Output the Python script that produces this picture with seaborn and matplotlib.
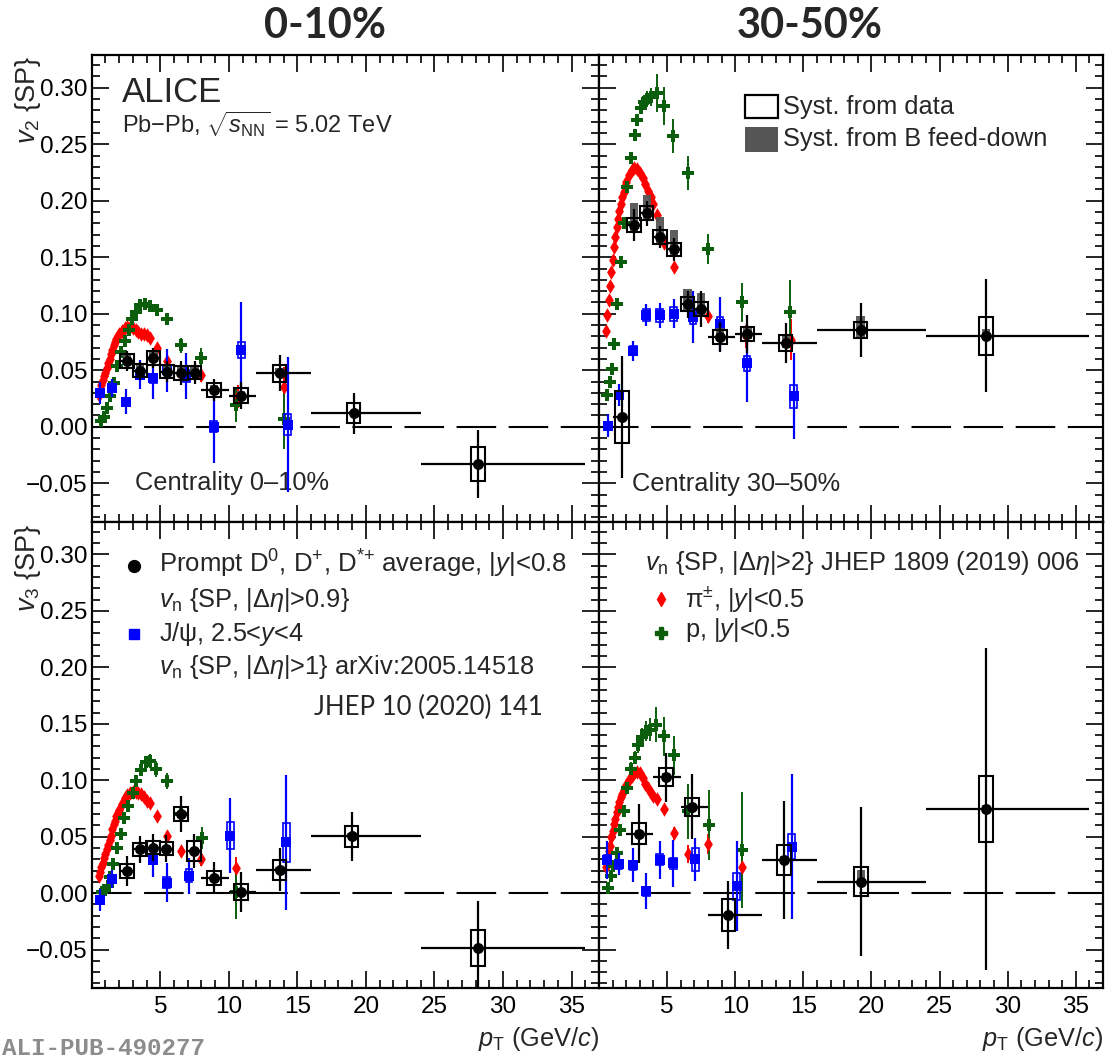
import numpy as np
import pandas as pd
import matplotlib
matplotlib.use("Agg")
import matplotlib.pyplot as plt
from matplotlib.patches import Rectangle
from matplotlib.ticker import MultipleLocator, FixedLocator, FuncFormatter
import seaborn as sns

sns.set_style("ticks")
plt.rcParams['font.family'] = ['Liberation Sans', 'DejaVu Sans']
plt.rcParams['mathtext.fontset'] = 'custom'
plt.rcParams['mathtext.rm'] = 'Liberation Sans'
plt.rcParams['mathtext.it'] = 'Liberation Sans:italic'
plt.rcParams['mathtext.bf'] = 'Liberation Sans:bold'
plt.rcParams['mathtext.sf'] = 'Liberation Sans'

# ---------------- data: prompt D mesons ----------------
d_v2_010_pt = [2.6, 3.5, 4.5, 5.5, 6.5, 7.5, 8.9, 10.9, 13.7, 19.1, 28.2]
d_v2_010_lo = [2, 3, 4, 5, 6, 7, 8, 10, 12, 16, 24]
d_v2_010_hi = [3, 4, 5, 6, 7, 8, 10, 12, 16, 24, 36]
d_v2_010_val = [0.058, 0.0497, 0.061, 0.0488, 0.0476, 0.048, 0.0326, 0.0276, 0.0473, 0.012, -0.033]
d_v2_010_stat = [0.009, 0.008, 0.009, 0.009, 0.011, 0.010, 0.010, 0.012, 0.016, 0.018, 0.030]
d_v2_010_syst = [0.006, 0.006, 0.006, 0.006, 0.006, 0.006, 0.006, 0.007, 0.0075, 0.009, 0.015]
d_v2_010_fdup = [0.006, 0.005, 0.006, 0.005, 0.005, 0.005, 0.004, 0.004, 0.005, 0.002, 0.002]
d_v2_010_fddn = [0.002, 0.002, 0.002, 0.002, 0.002, 0.002, 0.002, 0.002, 0.002, 0.002, 0.002]

d_v2_3050_pt = [1.7, 2.55, 3.5, 4.5, 5.5, 6.5, 7.5, 8.9, 10.9, 13.7, 19.2, 28.4]
d_v2_3050_lo = [1, 2, 3, 4, 5, 6, 7, 8, 10, 12, 16, 24]
d_v2_3050_hi = [2, 3, 4, 5, 6, 7, 8, 10, 12, 16, 24, 36]
d_v2_3050_val = [0.0087, 0.1786, 0.189, 0.168, 0.157, 0.1085, 0.104, 0.0795, 0.082, 0.074, 0.0858, 0.0805]
d_v2_3050_stat = [0.054, 0.014, 0.011, 0.010, 0.010, 0.012, 0.016, 0.013, 0.017, 0.018, 0.024, 0.050]
d_v2_3050_syst = [0.023, 0.006, 0.006, 0.006, 0.006, 0.006, 0.006, 0.006, 0.006, 0.007, 0.007, 0.017]
d_v2_3050_fdup = [0.003, 0.019, 0.016, 0.018, 0.017, 0.013, 0.014, 0.008, 0.007, 0.006, 0.012, 0.006]
d_v2_3050_fddn = [0.002, 0.005, 0.006, 0.006, 0.006, 0.005, 0.006, 0.004, 0.004, 0.004, 0.006, 0.004]

d_v3_010_pt = [2.6, 3.5, 4.45, 5.45, 6.5, 7.45, 8.9, 10.9, 13.7, 18.95, 28.2]
d_v3_010_lo = [2, 3, 4, 5, 6, 7, 8, 10, 12, 16, 24]
d_v3_010_hi = [3, 4, 5, 6, 7, 8, 10, 12, 16, 24, 36]
d_v3_010_val = [0.0196, 0.0388, 0.0404, 0.0394, 0.070, 0.0373, 0.0134, 0.001, 0.0208, 0.0503, -0.0488]
d_v3_010_stat = [0.013, 0.012, 0.012, 0.012, 0.016, 0.015, 0.014, 0.018, 0.019, 0.022, 0.042]
d_v3_010_syst = [0.006, 0.006, 0.006, 0.006, 0.006, 0.009, 0.006, 0.007, 0.009, 0.009, 0.016]
d_v3_010_fdup = [0.002, 0.002, 0.002, 0.002, 0.003, 0.002, 0.002, 0.002, 0.002, 0.003, 0.002]
d_v3_010_fddn = [0.001, 0.001, 0.001, 0.001, 0.001, 0.001, 0.001, 0.001, 0.001, 0.001, 0.001]

d_v3_3050_pt = [2.95, 4.9, 6.85, 9.5, 13.6, 19.25, 28.4]
d_v3_3050_lo = [2, 4, 6, 8, 12, 16, 24]
d_v3_3050_hi = [4, 6, 8, 12, 16, 24, 36]
d_v3_3050_val = [0.0528, 0.1025, 0.0767, -0.0196, 0.0295, 0.0102, 0.0745]
d_v3_3050_stat = [0.026, 0.022, 0.029, 0.030, 0.052, 0.066, 0.143]
d_v3_3050_syst = [0.009, 0.008, 0.008, 0.014, 0.013, 0.013, 0.029]
d_v3_3050_fdup = [0.003, 0.004, 0.003, 0.002, 0.003, 0.010, 0.004]
d_v3_3050_fddn = [0.001, 0.002, 0.001, 0.001, 0.001, 0.004, 0.002]

# ---------------- data: J/psi ----------------
j_v2_010_pt = [0.64, 1.5, 2.5, 3.5, 4.5, 5.5, 6.9, 8.9, 10.9, 14.3]
j_v2_010_val = [0.030, 0.034, 0.022, 0.046, 0.043, 0.050, 0.045, 0.000, 0.068, 0.002]
j_v2_010_err = [0.010, 0.008, 0.011, 0.013, 0.018, 0.019, 0.020, 0.032, 0.042, 0.060]
j_v2_010_syst = [0.003, 0.003, 0.003, 0.004, 0.004, 0.004, 0.005, 0.005, 0.007, 0.009]

j_v2_3050_pt = [0.64, 1.5, 2.52, 3.48, 4.47, 5.47, 6.9, 8.88, 10.87, 14.3]
j_v2_3050_val = [0.001, 0.028, 0.0673, 0.0988, 0.0985, 0.100, 0.097, 0.091, 0.056, 0.027]
j_v2_3050_err = [0.010, 0.010, 0.009, 0.010, 0.011, 0.013, 0.023, 0.024, 0.034, 0.038]
j_v2_3050_syst = [0.003, 0.003, 0.004, 0.005, 0.006, 0.006, 0.006, 0.006, 0.007, 0.010]

j_v3_010_pt = [0.64, 1.5, 4.44, 5.48, 7.1, 10.1, 14.2]
j_v3_010_val = [-0.0062, 0.0124, 0.0295, 0.0093, 0.0155, 0.051, 0.045]
j_v3_010_err = [0.010, 0.008, 0.015, 0.017, 0.016, 0.033, 0.060]
j_v3_010_syst = [0.003, 0.003, 0.004, 0.005, 0.006, 0.012, 0.017]

j_v3_3050_pt = [0.6, 1.45, 2.5, 3.46, 4.45, 5.46, 7.07, 10.1, 14.15]
j_v3_3050_val = [0.0295, 0.0258, 0.0248, 0.0016, 0.0295, 0.0264, 0.030, 0.0062, 0.0413]
j_v3_3050_err = [0.017, 0.010, 0.015, 0.016, 0.017, 0.021, 0.019, 0.040, 0.064]
j_v3_3050_syst = [0.004, 0.004, 0.004, 0.004, 0.005, 0.005, 0.010, 0.012, 0.011]

# ---------------- data: charged pions ----------------
pi_v2_010_pt = [0.5, 0.6, 0.7, 0.8, 0.9, 1.0, 1.1, 1.2, 1.3, 1.4, 1.5, 1.6, 1.7, 1.8, 1.9, 2.0,
                2.2, 2.4, 2.6, 2.8, 3.0, 3.2, 3.4, 3.6, 3.8, 4.0, 4.25, 4.75, 5.5, 6.5, 8.0, 10.7, 14.0]
pi_v2_010_val = [0.028, 0.032, 0.037, 0.041, 0.045, 0.048, 0.052, 0.056, 0.060, 0.064, 0.068, 0.072,
                 0.075, 0.078, 0.080, 0.082, 0.085, 0.087, 0.0885, 0.0886, 0.087, 0.0855, 0.084,
                 0.0825, 0.082, 0.081, 0.079, 0.070, 0.058, 0.047, 0.046, 0.027, 0.035]
pi_v2_010_err = [0.001] * 26 + [0.002, 0.003, 0.004, 0.005, 0.006, 0.010, 0.018]

pi_v2_3050_pt = [0.5, 0.6, 0.7, 0.8, 0.9, 1.0, 1.1, 1.2, 1.3, 1.4, 1.5, 1.6, 1.7, 1.8, 1.9, 2.0,
                 2.2, 2.4, 2.6, 2.8, 3.0, 3.2, 3.4, 3.6, 3.8, 4.0, 4.25, 4.75, 5.5, 6.5, 8.0, 10.8, 14.1]
pi_v2_3050_val = [0.085, 0.099, 0.112, 0.125, 0.137, 0.148, 0.159, 0.168, 0.177, 0.184, 0.191, 0.197,
                  0.203, 0.208, 0.213, 0.217, 0.223, 0.227, 0.229, 0.228, 0.225, 0.220, 0.215,
                  0.209, 0.203, 0.197, 0.187, 0.163, 0.1415, 0.112, 0.098, 0.080, 0.077]
pi_v2_3050_err = [0.001] * 26 + [0.002, 0.003, 0.004, 0.005, 0.006, 0.010, 0.018]

pi_v3_010_pt = [0.5, 0.6, 0.7, 0.8, 0.9, 1.0, 1.1, 1.2, 1.3, 1.4, 1.5, 1.6, 1.7, 1.8, 1.9, 2.0,
                2.2, 2.4, 2.6, 2.8, 3.0, 3.2, 3.4, 3.6, 3.8, 4.0, 4.25, 4.75, 5.5, 6.5, 8.0, 10.5]
pi_v3_010_val = [0.0155, 0.019, 0.023, 0.027, 0.031, 0.035, 0.039, 0.043, 0.047, 0.051, 0.057, 0.061,
                 0.064, 0.068, 0.071, 0.074, 0.079, 0.084, 0.087, 0.089, 0.0895, 0.090, 0.089,
                 0.0875, 0.085, 0.082, 0.080, 0.068, 0.051, 0.037, 0.030, 0.022]
pi_v3_010_err = [0.001] * 26 + [0.002, 0.003, 0.004, 0.005, 0.006, 0.010]

pi_v3_3050_pt = [0.5, 0.6, 0.7, 0.8, 0.9, 1.0, 1.1, 1.2, 1.3, 1.4, 1.5, 1.6, 1.7, 1.8, 1.9, 2.0,
                 2.2, 2.4, 2.6, 2.8, 3.0, 3.2, 3.4, 3.6, 3.8, 4.0, 4.25, 4.75, 5.5, 6.5, 8.0, 10.5]
pi_v3_3050_val = [0.023, 0.030, 0.037, 0.042, 0.050, 0.055, 0.061, 0.066, 0.072, 0.076, 0.081, 0.085,
                  0.088, 0.091, 0.093, 0.096, 0.100, 0.104, 0.1065, 0.107, 0.106, 0.102, 0.097,
                  0.093, 0.089, 0.086, 0.083, 0.0745, 0.053, 0.035, 0.0435, 0.0233]
pi_v3_3050_err = [0.001] * 26 + [0.003, 0.004, 0.006, 0.008, 0.009, 0.012]

# ---------------- data: protons ----------------
p_v2_010_pt = [0.65, 0.9, 1.15, 1.35, 1.6, 1.85, 2.15, 2.4, 2.7, 2.95, 3.25, 3.55, 3.9, 4.25, 4.75, 5.5, 6.5, 8.0, 10.5, 14.0]
p_v2_010_val = [0.005, 0.009, 0.017, 0.027, 0.039, 0.054, 0.066, 0.076, 0.0855, 0.095, 0.102, 0.108,
                0.109, 0.107, 0.103, 0.095, 0.072, 0.061, 0.019, 0.007]
p_v2_010_err = [0.002, 0.002, 0.002, 0.002, 0.002, 0.002, 0.002, 0.002, 0.002, 0.002, 0.003, 0.003,
                0.003, 0.004, 0.004, 0.005, 0.007, 0.009, 0.015, 0.027]

p_v2_3050_pt = [0.61, 0.78, 0.95, 1.1, 1.34, 1.59, 1.83, 2.07, 2.37, 2.61, 2.8, 3.05, 3.29, 3.54,
                3.83, 4.24, 4.76, 5.46, 6.51, 7.98, 10.49, 14.02]
p_v2_3050_val = [0.028, 0.040, 0.051, 0.0734, 0.109, 0.1456, 0.1807, 0.2125, 0.238, 0.258, 0.2714,
                 0.2818, 0.2877, 0.2897, 0.292, 0.2956, 0.2838, 0.2573, 0.2243, 0.1574, 0.110, 0.102]
p_v2_3050_err = [0.003, 0.003, 0.003, 0.003, 0.003, 0.003, 0.003, 0.004, 0.004, 0.004, 0.005, 0.005,
                 0.006, 0.007, 0.008, 0.017, 0.017, 0.015, 0.015, 0.013, 0.017, 0.028]

p_v3_010_pt = [0.74, 0.94, 1.16, 1.36, 1.58, 1.86, 2.14, 2.34, 2.62, 2.98, 3.26, 3.6, 3.96, 4.24,
               4.66, 5.5, 6.48, 8.08, 10.5]
p_v3_010_val = [0.001, 0.003, 0.006, 0.0146, 0.0258, 0.040, 0.052, 0.067, 0.0776, 0.089, 0.0994,
                0.1087, 0.116, 0.117, 0.110, 0.0994, 0.070, 0.049, 0.001]
p_v3_010_err = [0.002, 0.002, 0.002, 0.002, 0.002, 0.002, 0.003, 0.003, 0.003, 0.003, 0.004, 0.004,
                0.005, 0.006, 0.007, 0.007, 0.009, 0.010, 0.024]

p_v3_3050_pt = [0.66, 0.85, 1.05, 1.3, 1.51, 1.83, 2.07, 2.32, 2.61, 2.85, 3.15, 3.46, 3.78, 4.2,
                4.76, 5.49, 6.51, 8.05, 10.49]
p_v3_3050_val = [0.005, 0.0155, 0.024, 0.036, 0.056, 0.073, 0.093, 0.110, 0.120, 0.131, 0.138,
                 0.1438, 0.1447, 0.149, 0.1388, 0.122, 0.0724, 0.0606, 0.0382]
p_v3_3050_err = [0.004, 0.004, 0.004, 0.004, 0.004, 0.005, 0.005, 0.006, 0.006, 0.007, 0.008,
                 0.009, 0.010, 0.0155, 0.017, 0.017, 0.024, 0.031, 0.051]

# ---------------- style ----------------
RED = '#ff0000'
BLUE = '#0000ff'
GREEN = '#0b5e0b'
FD_GRAY = '#555555'
XMAX = 37.0
YMIN, YMAX = -0.084, 0.329

fig = plt.figure(figsize=(11.07, 10.60), dpi=100)
L, M, R = 91.7 / 1107, 599 / 1107, 1103 / 1107
T, MID, B = 1 - 55 / 1060, 1 - 521.7 / 1060, 1 - 988 / 1060
ax_tl = fig.add_axes([L, MID, M - L, T - MID])
ax_tr = fig.add_axes([M, MID, R - M, T - MID])
ax_bl = fig.add_axes([L, B, M - L, MID - B])
ax_br = fig.add_axes([M, B, R - M, MID - B])


def fmt_y(v, p):
    if abs(v) < 1e-9:
        v = 0.0
    return f"{v:.2f}".replace('-', '\u2212')


def draw_panel(ax, d_pt, d_lo, d_hi, d_val, d_stat, d_syst, d_fdup, d_fddn,
               j_pt, j_val, j_err, j_syst, pi_pt, pi_val, pi_err, p_pt, p_val, p_err):
    ax.plot([0, XMAX], [0, 0], color='black', lw=1.5, dashes=(19, 6), zorder=1)

    # charged pions
    ax.errorbar(pi_pt, pi_val, yerr=pi_err, fmt='none', ecolor=RED, elinewidth=1.4, zorder=2)
    sns.scatterplot(x=pi_pt, y=pi_val, marker='d', color=RED, s=55, linewidth=0,
                    ax=ax, zorder=3, legend=False)
    # protons
    ax.errorbar(p_pt, p_val, yerr=p_err, fmt='none', ecolor=GREEN, elinewidth=1.4, zorder=2)
    sns.scatterplot(x=p_pt, y=p_val, marker='P', color=GREEN, s=80, linewidth=0,
                    ax=ax, zorder=3, legend=False)
    # J/psi
    for x, y, s in zip(j_pt, j_val, j_syst):
        ax.add_patch(Rectangle((x - 0.25, y - s), 0.5, 2 * s, fill=False,
                               edgecolor=BLUE, lw=1.2, zorder=4))
    ax.errorbar(j_pt, j_val, yerr=j_err, fmt='none', ecolor=BLUE, elinewidth=1.6, zorder=4)
    sns.scatterplot(x=j_pt, y=j_val, marker='s', color=BLUE, s=42, linewidth=0,
                    ax=ax, zorder=5, legend=False)
    # prompt D mesons
    for x, y, up, dn in zip(d_pt, d_val, d_fdup, d_fddn):
        ax.add_patch(Rectangle((x - 0.3, y - dn), 0.6, up + dn, facecolor=FD_GRAY,
                               edgecolor='none', alpha=0.95, zorder=6))
    for x, y, s in zip(d_pt, d_val, d_syst):
        ax.add_patch(Rectangle((x - 0.5, y - s), 1.0, 2 * s, fill=False,
                               edgecolor='black', lw=1.5, zorder=7))
    xl = np.array(d_pt) - np.array(d_lo)
    xh = np.array(d_hi) - np.array(d_pt)
    ax.errorbar(d_pt, d_val, yerr=d_stat, xerr=[xl, xh], fmt='none', ecolor='black',
                elinewidth=1.6, zorder=8)
    sns.scatterplot(x=d_pt, y=d_val, marker='o', color='black', s=62, linewidth=0,
                    ax=ax, zorder=9, legend=False)

    ax.set_xlim(0, XMAX)
    ax.set_ylim(YMIN, YMAX)
    ax.xaxis.set_major_locator(FixedLocator([5, 10, 15, 20, 25, 30, 35]))
    ax.xaxis.set_minor_locator(MultipleLocator(1))
    ax.yaxis.set_major_locator(MultipleLocator(0.05))
    ax.yaxis.set_minor_locator(MultipleLocator(0.01))
    ax.yaxis.set_major_formatter(FuncFormatter(fmt_y))
    ax.tick_params(which='both', direction='in', top=True, right=True, width=1.2,
                   colors='black', labelsize=17.5)
    ax.tick_params(which='major', length=12)
    ax.tick_params(which='minor', length=6)
    ax.tick_params(axis='x', which='major', pad=6)
    ax.tick_params(axis='y', which='major', pad=3)
    for sp in ax.spines.values():
        sp.set_linewidth(1.6)
        sp.set_color('black')
    ax.set_xlabel('')
    ax.set_ylabel('')


draw_panel(ax_tl, d_v2_010_pt, d_v2_010_lo, d_v2_010_hi, d_v2_010_val, d_v2_010_stat,
           d_v2_010_syst, d_v2_010_fdup, d_v2_010_fddn,
           j_v2_010_pt, j_v2_010_val, j_v2_010_err, j_v2_010_syst,
           pi_v2_010_pt, pi_v2_010_val, pi_v2_010_err, p_v2_010_pt, p_v2_010_val, p_v2_010_err)
draw_panel(ax_tr, d_v2_3050_pt, d_v2_3050_lo, d_v2_3050_hi, d_v2_3050_val, d_v2_3050_stat,
           d_v2_3050_syst, d_v2_3050_fdup, d_v2_3050_fddn,
           j_v2_3050_pt, j_v2_3050_val, j_v2_3050_err, j_v2_3050_syst,
           pi_v2_3050_pt, pi_v2_3050_val, pi_v2_3050_err, p_v2_3050_pt, p_v2_3050_val, p_v2_3050_err)
draw_panel(ax_bl, d_v3_010_pt, d_v3_010_lo, d_v3_010_hi, d_v3_010_val, d_v3_010_stat,
           d_v3_010_syst, d_v3_010_fdup, d_v3_010_fddn,
           j_v3_010_pt, j_v3_010_val, j_v3_010_err, j_v3_010_syst,
           pi_v3_010_pt, pi_v3_010_val, pi_v3_010_err, p_v3_010_pt, p_v3_010_val, p_v3_010_err)
draw_panel(ax_br, d_v3_3050_pt, d_v3_3050_lo, d_v3_3050_hi, d_v3_3050_val, d_v3_3050_stat,
           d_v3_3050_syst, d_v3_3050_fdup, d_v3_3050_fddn,
           j_v3_3050_pt, j_v3_3050_val, j_v3_3050_err, j_v3_3050_syst,
           pi_v3_3050_pt, pi_v3_3050_val, pi_v3_3050_err, p_v3_3050_pt, p_v3_3050_val, p_v3_3050_err)

for ax in (ax_tl, ax_tr):
    ax.tick_params(labelbottom=False)
for ax in (ax_tr, ax_br):
    ax.tick_params(labelleft=False)

FS = 18.3
# ---- top-left texts ----
ax_tl.text(0.06, 0.90, 'ALICE', transform=ax_tl.transAxes, fontsize=25, va='baseline')
ax_tl.text(0.06, 0.832, r'Pb$-$Pb, $\sqrt{s_{\rm NN}}$ = 5.02 TeV', transform=ax_tl.transAxes,
           fontsize=17, va='baseline')
ax_tl.text(0.0855, 0.068, 'Centrality 0\u201310%', transform=ax_tl.transAxes, fontsize=FS,
           va='baseline')

# ---- top-right texts / legend ----
ax_tr.add_patch(Rectangle((0.29, 0.8644), 0.0646, 0.0499, transform=ax_tr.transAxes,
                          fill=False, edgecolor='black', lw=1.6, zorder=10))
ax_tr.add_patch(Rectangle((0.29, 0.7928), 0.0646, 0.0522, transform=ax_tr.transAxes,
                          facecolor=FD_GRAY, edgecolor='none', zorder=10))
ax_tr.text(0.366, 0.874, 'Syst. from data', transform=ax_tr.transAxes, fontsize=FS, va='baseline')
ax_tr.text(0.366, 0.805, 'Syst. from B feed-down', transform=ax_tr.transAxes, fontsize=FS,
           va='baseline')
ax_tr.text(0.065, 0.066, 'Centrality 30\u201350%', transform=ax_tr.transAxes, fontsize=FS,
           va='baseline')

# ---- bottom-left legend ----
ax_bl.plot([0.083], [0.905], 'o', color='black', ms=8.5, transform=ax_bl.transAxes, clip_on=False)
ax_bl.text(0.132, 0.89, r'Prompt D$^{0}$, D$^{+}$, D$^{*{+}}$ average, |$y$|<0.8',
           transform=ax_bl.transAxes, fontsize=18.5, va='baseline')
ax_bl.text(0.132, 0.818, r'$v_{\rm n}$ {SP, |$\Delta\eta$|>0.9}', transform=ax_bl.transAxes,
           fontsize=FS, va='baseline')
ax_bl.plot([0.083], [0.76], 's', color=BLUE, ms=6.5, transform=ax_bl.transAxes, clip_on=False)
ax_bl.text(0.132, 0.745, r'J/ψ, 2.5<$y$<4', transform=ax_bl.transAxes, fontsize=FS,
           va='baseline')
ax_bl.text(0.132, 0.673, r'$v_{\rm n}$ {SP, |$\Delta\eta$|>1} arXiv:2005.14518',
           transform=ax_bl.transAxes, fontsize=FS, va='baseline')
ax_bl.text(0.438, 0.585, 'JHEP 10 (2020) 141', transform=ax_bl.transAxes, fontsize=18.5,
           va='baseline', family=['Lato', 'DejaVu Sans'])

# ---- bottom-right legend ----
ax_br.text(0.091, 0.896, r'$v_{\rm n}$ {SP, |$\Delta\eta$|>2} JHEP 1809 (2019) 006',
           transform=ax_br.transAxes, fontsize=FS, va='baseline')
ax_br.plot([0.124], [0.834], 'd', color=RED, ms=7, transform=ax_br.transAxes, clip_on=False)
ax_br.text(0.171, 0.818, r'π$^{\pm}$, |$y$|<0.5', transform=ax_br.transAxes, fontsize=FS,
           va='baseline')
ax_br.plot([0.124], [0.761], 'P', color=GREEN, ms=9, transform=ax_br.transAxes, clip_on=False)
ax_br.text(0.171, 0.753, r'p, |$y$|<0.5', transform=ax_br.transAxes, fontsize=FS,
           va='baseline')

# ---- axis titles ----
fig.text(0.025, 1 - 56 / 1060, r'$v_{2}$ {SP}', rotation=90, ha='center', va='top', fontsize=19.5)
fig.text(0.025, 1 - 524 / 1060, r'$v_{3}$ {SP}', rotation=90, ha='center', va='top', fontsize=19.5)
ax_bl.text(1.0, -0.125, r'$p_{\rm T}$ (GeV/$c$)', transform=ax_bl.transAxes, ha='right',
           va='baseline', fontsize=FS)
ax_br.text(1.0, -0.125, r'$p_{\rm T}$ (GeV/$c$)', transform=ax_br.transAxes, ha='right',
           va='baseline', fontsize=FS)

# ---- column titles ----
fig.text(325 / 1107, 1 - 26 / 1060, '0-10%', ha='center', va='center', fontsize=30,
         fontweight='bold', family=['Lato', 'DejaVu Sans'])
fig.text(810 / 1107, 1 - 26 / 1060, '30-50%', ha='center', va='center', fontsize=30,
         fontweight='bold', family=['Lato', 'DejaVu Sans'])

fig.text(2 / 1107, 1 - 1055 / 1060, 'ALI-PUB-490277', ha='left', va='baseline', fontsize=17.5,
         fontweight='bold', color='#8c8c8c', family=['Liberation Mono', 'DejaVu Sans Mono'])

fig.savefig('out.png', dpi=100)
